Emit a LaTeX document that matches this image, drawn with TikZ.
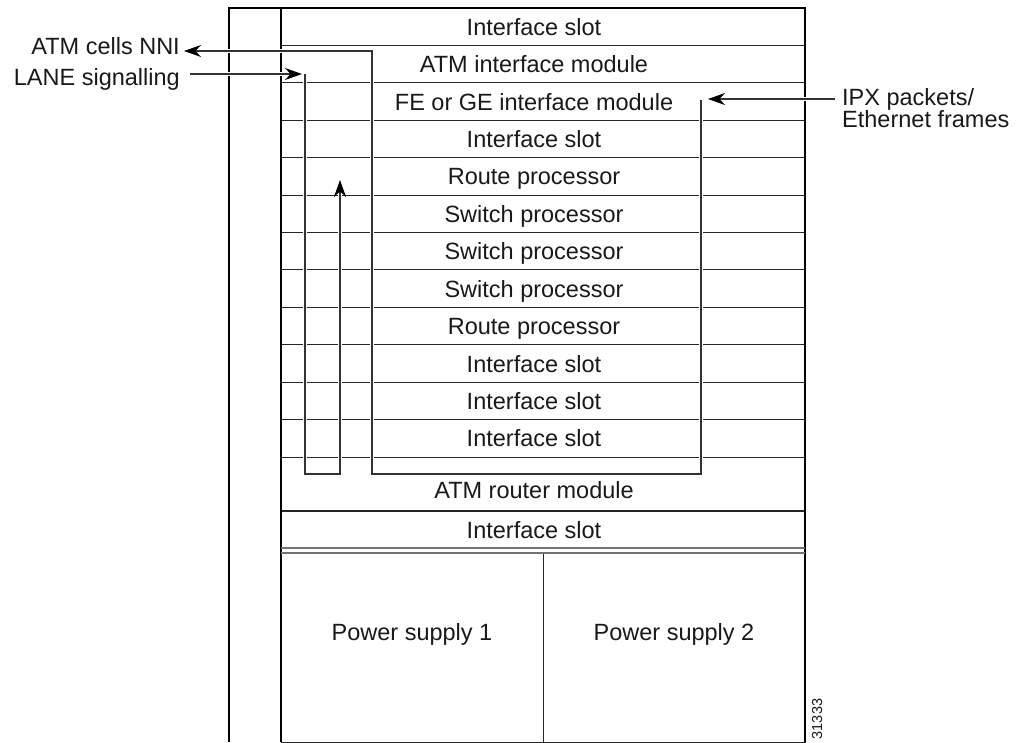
\documentclass[tikz,border=0pt]{standalone}
\usepackage{fontspec}
\setmainfont{Liberation Sans}
\usetikzlibrary{arrows.meta}

\begin{document}
\begin{tikzpicture}[x=1pt, y=-1pt,
  every node/.style={font=\fontsize{23.5}{22}\selectfont, text=black!90},
  slot/.style={draw=black!85, line width=1pt, minimum width=524pt, minimum height=37.42pt, inner sep=0pt, text height=17pt, text depth=0pt, execute at end node={\hspace*{18pt}}},
  psbox/.style={draw=black!85, line width=1pt, minimum width=262pt, minimum height=189pt, inner sep=0pt, text height=17pt, text depth=31pt},
  tag/.style={inner sep=0pt, text height=17pt, text depth=0pt},
  sig/.style={draw=black!80, line width=1.3pt, preaction={draw=white, line width=4.5pt, -}},
  rim/.style={draw=black, line width=2.5pt, line join=miter},
  >={Stealth[length=17pt, width=12pt, black]}]

\useasboundingbox (0,0) rectangle (1017,742);

\node[slot](r1) at (543,26.7) {Interface slot};
\node[slot](r2) at (543,64.1) {ATM interface module};
\node[slot](r3) at (543,101.5) {FE or GE interface module};
\node[slot](r4) at (543,139.0) {Interface slot};
\node[slot](r5) at (543,176.4) {Route processor};
\node[slot](r6) at (543,213.8) {Switch processor};
\node[slot](r7) at (543,251.2) {Switch processor};
\node[slot](r8) at (543,288.6) {Switch processor};
\node[slot](r9) at (543,326.0) {Route processor};
\node[slot](r10) at (543,363.5) {Interface slot};
\node[slot](r11) at (543,400.9) {Interface slot};
\node[slot](r12) at (543,438.3) {Interface slot};
\node[slot, minimum height=54pt, text height=29pt](atmr) at (543,484) {ATM router module};
\node[slot](lower) at (543,529.7) {Interface slot};

\node[psbox](ps1) at (412,647.5) {Power supply 1};
\node[psbox](ps2) at (674,647.5) {Power supply 2};

\node[tag, anchor=east](nni) at (180,45.5) {ATM cells NNI};
\node[tag, anchor=east](lane) at (180,76.5) {LANE signalling};
\node[inner sep=0pt, anchor=west, align=left](ipx) at (842,108.5) {IPX packets/\\Ethernet frames};
\node[inner sep=0pt, rotate=90, font=\fontsize{14.5}{14}\selectfont](code) at (817,719) {31333};

% chassis
\draw[rim, line width=2.2pt] (229,742) -- (229,8) -- (281,8);
\draw[rim] (281,742) -- (281,8) -- (805,8) -- (805,742);
\draw[draw=black!55, line width=1.8pt] (281,548.3) -- (805,548.3);
\draw[draw=black!55, line width=1.8pt] (281,552.9) -- (805,552.9);

\coordinate (lanein) at (302,74);
\coordinate (ipxin) at (708,99);

\draw[sig,->] ([xshift=10pt, yshift=2.5pt]lane.east) to (lanein);
\draw[sig,->] ([xshift=-7pt, yshift=9.5pt]ipx.west) to (ipxin);

\draw[sig,->] (305,74) -- (305,474) -- (340,474) -- (340,180);
\draw[sig,->] (701,100) -- (701,474) -- (372,474) -- (372,51) -- ([xshift=4pt, yshift=-5.5pt]nni.east);

\end{tikzpicture}
\end{document}
